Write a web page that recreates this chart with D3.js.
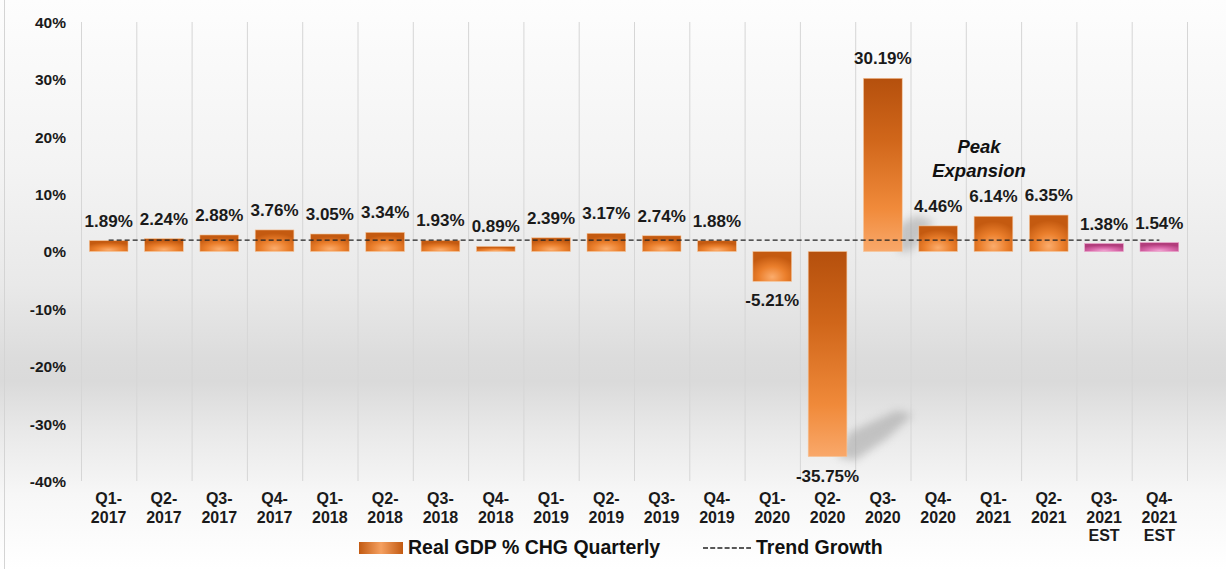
<!DOCTYPE html>
<html><head><meta charset="utf-8">
<script src="https://cdn.jsdelivr.net/npm/d3@7"></script>
<style>
html,body{margin:0;padding:0;background:#fff;}
svg{display:block;font-family:"Liberation Sans",Arial,sans-serif;}
</style></head>
<body>
<svg id="chart" width="1226" height="569"></svg>
<script>
const quarters = ["Q1-","Q2-","Q3-","Q4-","Q1-","Q2-","Q3-","Q4-","Q1-","Q2-","Q3-","Q4-","Q1-","Q2-","Q3-","Q4-","Q1-","Q2-","Q3-","Q4-"];
const years = ["2017","2017","2017","2017","2018","2018","2018","2018","2019","2019","2019","2019","2020","2020","2020","2020","2021","2021","2021","2021"];
const suffix = ["","","","","","","","","","","","","","","","","","","EST","EST"];
const gdp = [1.89,2.24,2.88,3.76,3.05,3.34,1.93,0.89,2.39,3.17,2.74,1.88,-5.21,-35.75,30.19,4.46,6.14,6.35,1.38,1.54];
const estimate = [false,false,false,false,false,false,false,false,false,false,false,false,false,false,false,false,false,false,true,true];
const trend = 2.0;
const yTicks = [40,30,20,10,0,-10,-20,-30,-40];
const annotation = ["Peak","Expansion"];
const legendLabels = ["Real GDP % CHG Quarterly","Trend Growth"];

const svg = d3.select("#chart");
const W = 1226, H = 569;
const m = {left:81, right:1187, top:22, bottom:481};

const defs = svg.append("defs");
const bg = defs.append("linearGradient").attr("id","bg").attr("x1",0).attr("y1",0).attr("x2",0).attr("y2",1);
[[0,"#fdfdfd"],[0.3,"#f3f3f3"],[0.5,"#e9e9e9"],[0.63,"#dcdcdc"],[0.67,"#dadada"],[0.76,"#e9e9e9"],[0.87,"#f7f7f7"],[1,"#ffffff"]]
  .forEach(s=>bg.append("stop").attr("offset",s[0]).attr("stop-color",s[1]));

const lin = defs.append("linearGradient").attr("id","barLin").attr("x1",0).attr("y1",0).attr("x2",0).attr("y2",1);
[[0,"#b5500d"],[0.35,"#d0661a"],[0.75,"#f08a3a"],[1,"#f9a86a"]].forEach(s=>lin.append("stop").attr("offset",s[0]).attr("stop-color",s[1]));
const rad = defs.append("radialGradient").attr("id","barRad").attr("cx","50%").attr("cy","85%").attr("r","70%");
[[0,"#fbac6c"],[0.5,"#eb7f2c"],[1,"#c45a10"]].forEach(s=>rad.append("stop").attr("offset",s[0]).attr("stop-color",s[1]));
const pink = defs.append("radialGradient").attr("id","barPink").attr("cx","50%").attr("cy","90%").attr("r","70%");
[[0,"#f0a0d0"],[0.5,"#d866a8"],[1,"#b23d7c"]].forEach(s=>pink.append("stop").attr("offset",s[0]).attr("stop-color",s[1]));
const legG = defs.append("linearGradient").attr("id","legGrad").attr("x1",0).attr("y1",0).attr("x2",1).attr("y2",0);
[[0,"#c25a12"],[0.5,"#f5a060"],[1,"#c25a12"]].forEach(s=>legG.append("stop").attr("offset",s[0]).attr("stop-color",s[1]));
const blur = defs.append("filter").attr("id","blur").attr("x","-50%").attr("y","-50%").attr("width","200%").attr("height","200%");
blur.append("feGaussianBlur").attr("stdDeviation",4);

svg.append("rect").attr("width",W).attr("height",H).attr("fill","url(#bg)");
svg.append("line").attr("x1",4.5).attr("x2",4.5).attr("y1",0).attr("y2",H).attr("stroke","#d4d4d4");

const idx = d3.range(gdp.length);
const x = d3.scaleBand().domain(idx).range([m.left,m.right]).paddingInner(0.3).paddingOuter(0.15);
const xb = d3.scaleBand().domain(idx).range([m.left,m.right]);
const y = d3.scaleLinear().domain([-40,40]).range([m.bottom,m.top]);

// vertical grid lines
svg.append("g").selectAll("line").data(d3.range(gdp.length+1)).join("line")
  .attr("x1",d=>m.left + d*xb.step()+0.5).attr("x2",d=>m.left + d*xb.step()+0.5)
  .attr("y1",m.top).attr("y2",m.bottom).attr("stroke","#d6d6d6").attr("stroke-width",1);

// y axis labels
const yAxis = d3.axisLeft(y).tickValues(yTicks).tickFormat(d=>d+"%").tickSize(0).tickPadding(0);
const ya = svg.append("g").attr("transform",`translate(66,0)`).call(yAxis);
ya.select(".domain").remove();
ya.selectAll("text").attr("font-size","15.5px").attr("font-weight","bold").attr("fill","#1a1a1a")
  .attr("font-family","'Liberation Sans',Arial,sans-serif").attr("dy","0.35em");

// shadows for large bars
const shadowG = svg.append("g").attr("filter","url(#blur)").attr("opacity",0.5);
idx.filter(i=>Math.abs(gdp[i])>20).forEach(i=>{
  const x1 = x(i)+x.bandwidth();
  const yb = gdp[i]>0 ? y(0) : y(gdp[i]);
  const pts = gdp[i]>0
    ? [[x1-4,yb],[x1-4,yb-26],[x1+14,yb-36],[x1+32,yb-30],[x1+14,yb-6],[x1+8,yb]]
    : [[x1-10,yb],[x1+2,yb-24],[x1+50,yb-46],[x1+66,yb-42],[x1+40,yb-18],[x1+8,yb+4]];
  shadowG.append("path").attr("d",d3.line()(pts)+"Z").attr("fill","#9a9a9a");
});

// bars
svg.append("g").selectAll("rect").data(idx).join("rect")
  .attr("x",i=>x(i)).attr("width",x.bandwidth())
  .attr("y",i=>y(Math.max(0,gdp[i]))).attr("height",i=>Math.abs(y(gdp[i])-y(0)))
  .attr("fill",i=>estimate[i] ? "url(#barPink)" : (Math.abs(gdp[i])>20 ? "url(#barLin)" : "url(#barRad)"))
  .attr("stroke",i=>estimate[i] ? "#e9a0c8" : "#f6c59a").attr("stroke-width",0.6);

// trend line
svg.append("line")
  .attr("x1",xb(0)+xb.bandwidth()/2).attr("x2",xb(gdp.length-1)+xb.bandwidth()/2)
  .attr("y1",y(trend)).attr("y2",y(trend))
  .attr("stroke","#222").attr("stroke-width",1.3).attr("stroke-dasharray","5,3");

// value labels
svg.append("g").selectAll("text").data(idx).join("text")
  .attr("x",i=>x(i)+x.bandwidth()/2)
  .attr("y",i=>gdp[i]>=0 ? y(gdp[i])-14 : y(gdp[i])+25)
  .attr("text-anchor","middle").attr("font-size","17px").attr("font-weight","bold").attr("fill","#1a1a1a")
  .text(i=>gdp[i].toFixed(2)+"%");

// x labels
const xl = svg.append("g").selectAll("text").data(idx).join("text")
  .attr("x",i=>xb(i)+xb.bandwidth()/2).attr("y",504)
  .attr("text-anchor","middle").attr("font-size","16px").attr("font-weight","bold").attr("fill","#1a1a1a");
xl.append("tspan").attr("x",i=>xb(i)+xb.bandwidth()/2).text(i=>quarters[i]);
xl.append("tspan").attr("x",i=>xb(i)+xb.bandwidth()/2).attr("dy",18.5).text(i=>years[i]);
xl.filter(i=>suffix[i]).append("tspan").attr("x",i=>xb(i)+xb.bandwidth()/2).attr("dy",18.5).text(i=>suffix[i]);

// annotation
const an = svg.append("text").attr("text-anchor","middle").attr("font-size","18.5px")
  .attr("font-weight","bold").attr("font-style","italic").attr("fill","#111");
an.append("tspan").attr("x",979).attr("y",153).text(annotation[0]);
an.append("tspan").attr("x",979).attr("y",177).text(annotation[1]);

// legend
svg.append("rect").attr("x",359).attr("y",542).attr("width",44).attr("height",12).attr("fill","url(#legGrad)");
svg.append("text").attr("x",408).attr("y",554).attr("font-size","19.5px").attr("font-weight","bold").attr("fill","#111").text(legendLabels[0]);
svg.append("line").attr("x1",703).attr("x2",751).attr("y1",548).attr("y2",548).attr("stroke","#222").attr("stroke-width",1.4).attr("stroke-dasharray","5,2.2");
svg.append("text").attr("x",756).attr("y",554).attr("font-size","19.5px").attr("font-weight","bold").attr("fill","#111").text(legendLabels[1]);
</script>
</body></html>
